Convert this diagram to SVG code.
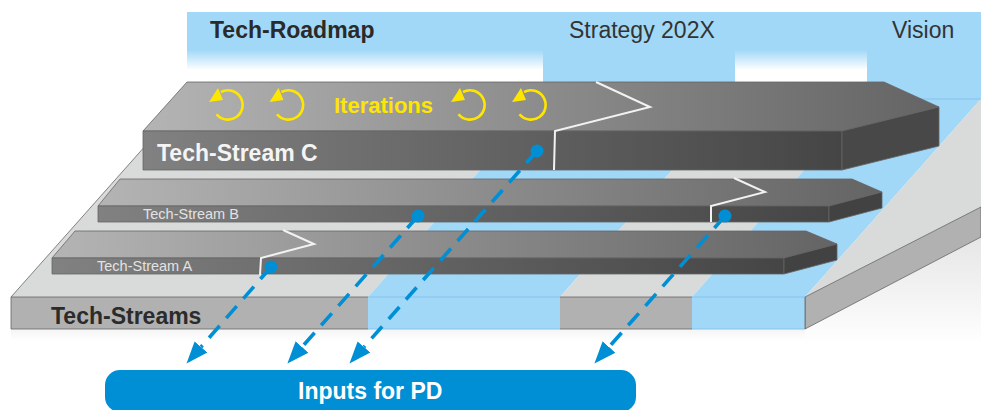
<svg xmlns="http://www.w3.org/2000/svg" width="981" height="410" viewBox="0 0 981 410">
<style>
.s{font-family:"Liberation Sans",Arial,sans-serif}
.edge{stroke:#666;stroke-width:.8;stroke-linejoin:round}
.bedge{stroke:#84c4ec;stroke-width:1}
.zig{fill:none;stroke:#f2f2f2;stroke-width:2;stroke-linejoin:miter}
.conn{fill:none;stroke:#008fd5;stroke-width:3.6;stroke-dasharray:16 10;marker-start:url(#dot);marker-end:url(#head)}
.lab{font-size:14.500px;fill:#e2e2e2}
</style>
<defs>
<linearGradient id="fade" x1="0" y1="0" x2="0" y2="1"><stop offset="0" stop-color="#a1d8f7"/><stop offset="1" stop-color="#fff"/></linearGradient>
<linearGradient id="top" x1="0" y1="0" x2="1" y2="0"><stop offset="0" stop-color="#b3b4b3"/><stop offset="1" stop-color="#646464"/></linearGradient>
<linearGradient id="front" x1="0" y1="0" x2="1" y2="0"><stop offset="0" stop-color="#818181"/><stop offset="1" stop-color="#454545"/></linearGradient>
<linearGradient id="shade" x1="0" y1="0" x2="0" y2="1"><stop offset="0" stop-color="#e6e6e6"/><stop offset="1" stop-color="#fff"/></linearGradient>
<linearGradient id="shade2" x1="0" y1="0" x2="0" y2="1"><stop offset="0" stop-color="#f4f4f4"/><stop offset="1" stop-color="#fff"/></linearGradient>
<marker id="head" markerUnits="userSpaceOnUse" markerWidth="24" markerHeight="20" refX="0" refY="10" orient="auto" viewBox="0 0 24 20"><path d="M0 1.500L22 10L0 18.500Z" fill="#008fd5"/></marker>
<marker id="dot" markerUnits="userSpaceOnUse" markerWidth="14" markerHeight="14" refX="7" refY="7" viewBox="0 0 14 14"><circle cx="7" cy="7" r="6.500" fill="#008fd5"/></marker>
<g id="iter"><path d="M-11.500 9.200A14.700 14.700 0 1 0 -7 -13" fill="none" stroke="#ffe600" stroke-width="2.600"/><path d="M-19 -3L-10 -17L-5 -5Z" fill="#ffe600"/></g>
</defs>

<g id="background">
<rect x="187" y="12" width="794" height="87" fill="#a1d8f7"/>
<rect x="187" y="50" width="356" height="20" fill="url(#fade)"/>
<rect x="187" y="70" width="356" height="30" fill="#fff"/>
<rect x="735" y="50" width="132" height="20" fill="url(#fade)"/>
<rect x="735" y="70" width="132" height="30" fill="#fff"/>
<rect x="11" y="329" width="794" height="12" fill="url(#shade2)"/>
<path d="M805 329L981 237V345H805Z" fill="url(#shade)"/>
<text class="s" x="210" y="38" font-size="23" font-weight="bold" fill="#2a2a2a">Tech-Roadmap</text>
<text class="s" x="569" y="38" font-size="23" fill="#333">Strategy 202X</text>
<text class="s" x="892" y="38" font-size="23" fill="#333">Vision</text>
</g>

<g id="tech-streams">
<path d="M11 297L187 99H543L368 297Z" fill="#d9dbda"/>
<path d="M368 297L543 99H735L560 297Z" fill="#a1d8f7"/>
<path d="M560 297L735 99H867L692 297Z" fill="#d9dbda"/>
<path d="M692 297L867 99H981L805 297Z" fill="#a1d8f7"/>
<path d="M805 297L981 99V207Z" fill="#d9dbda"/>
<path d="M805 297L981 207V237L805 329Z" fill="#b0b1b0" class="edge"/>
<path d="M11 297L187 99" fill="none" class="edge"/>
<path d="M867 99H981" class="bedge" fill="none"/>
<rect x="11" y="297" width="357" height="32" fill="#b0b1b0"/>
<rect x="368" y="297" width="192" height="32" fill="#a1d8f7"/>
<rect x="560" y="297" width="132" height="32" fill="#b0b1b0"/>
<rect x="692" y="297" width="113" height="32" fill="#a1d8f7"/>
<path d="M11 329V297H368M560 297H692M11 329H368M560 329H692" class="edge" fill="none"/>
<path d="M368 297H560M692 297H805M368 329H560M692 329H805" class="bedge" fill="none"/>
<path d="M805 297V329" class="edge" fill="none"/>
<text class="s" x="51" y="324" font-size="23" font-weight="bold" fill="#2b2b2b">Tech-Streams</text>
</g>

<g id="tech-stream-a">
<path d="M75 231H806L837 244L784 258H52Z" fill="url(#top)" class="edge"/>
<path d="M52 258H784V274H52Z" fill="url(#front)" class="edge"/>
<path d="M784 258L837 244V260L784 274Z" fill="#424242" class="edge"/>
<path d="M283 230L314 244L261 258L260 275" class="zig"/>
<text class="s lab" x="97" y="271">Tech-Stream A</text>
</g>

<g id="tech-stream-b">
<path d="M120 179H852L882 192L829 206H98Z" fill="url(#top)" class="edge"/>
<path d="M98 206H829V222H98Z" fill="url(#front)" class="edge"/>
<path d="M829 206L882 192V208L829 222Z" fill="#424242" class="edge"/>
<path d="M734 178L765 192L711 206V222" class="zig"/>
<text class="s lab" x="143" y="219">Tech-Stream B</text>
</g>

<g id="tech-stream-c">
<path d="M187 82H884L939 107L842 131H143Z" fill="url(#top)" class="edge"/>
<path d="M143 131H842V170H143Z" fill="url(#front)" class="edge"/>
<path d="M842 131L939 107V146L842 170Z" fill="#484848" class="edge"/>
<path d="M596 82L650 107L555 131L554 170" class="zig"/>
<use href="#iter" x="228" y="105"/>
<use href="#iter" x="288.500" y="105"/>
<use href="#iter" x="470" y="105"/>
<use href="#iter" x="531" y="105"/>
<text class="s" x="334" y="113" font-size="22" font-weight="bold" fill="#ffe600">Iterations</text>
<text class="s" x="157" y="161" font-size="23" font-weight="bold" fill="#f4f4f4">Tech-Stream C</text>
</g>

<g id="inputs-for-pd">
<rect x="105" y="370" width="531" height="42" rx="15" fill="#008fd5"/>
<text class="s" x="298" y="399" font-size="23" font-weight="bold" fill="#fff">Inputs for PD</text>
</g>

<g id="connectors">
<path class="conn" d="M271 267L201 347"/>
<path class="conn" d="M418 216L302 347"/>
<path class="conn" d="M537 151L364 347"/>
<path class="conn" d="M725 216L609 347"/>
</g>
</svg>
